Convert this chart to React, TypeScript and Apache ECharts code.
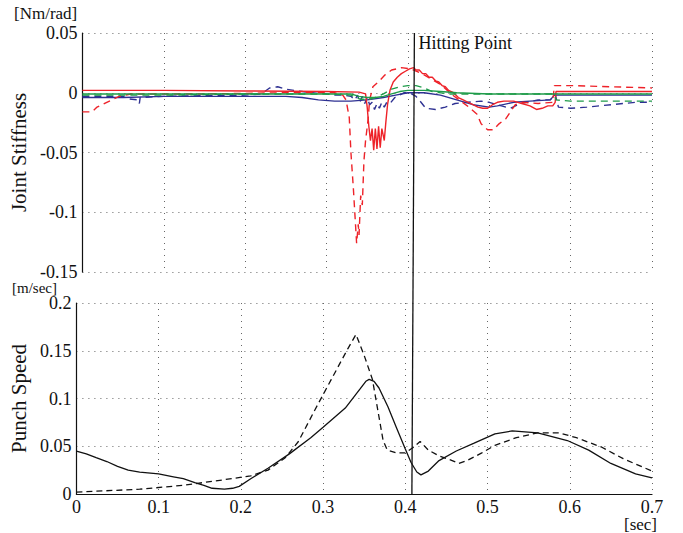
import { useEffect, useRef } from "react";
import * as echarts from "echarts";

// time axis ticks [sec]
const xMin = 0;
const xMax = 0.7;
const xStep = 0.1;
const hitTime = 0.408;

// Joint stiffness [Nm/rad] — [t, value]
const redSolid = [
  [0, 0.002], [0.1, 0.002], [0.2, 0.0015], [0.3, 0.001], [0.34, 0.0005], [0.348, -0.001],
  [0.35, -0.012], [0.352, -0.028], [0.354, -0.04], [0.356, -0.03], [0.358, -0.048], [0.36, -0.03],
  [0.362, -0.047], [0.364, -0.028], [0.366, -0.046], [0.368, -0.03], [0.371, -0.04], [0.373, -0.024],
  [0.375, -0.01], [0.378, 0.002], [0.382, 0.009], [0.387, 0.013], [0.392, 0.016], [0.397, 0.018],
  [0.402, 0.02], [0.407, 0.021], [0.41, 0.019], [0.414, 0.019], [0.418, 0.016], [0.422, 0.016],
  [0.426, 0.013], [0.43, 0.013], [0.434, 0.01], [0.438, 0.009], [0.442, 0.006], [0.446, 0.005],
  [0.45, 0.002], [0.456, 0.0], [0.462, -0.004], [0.468, -0.006], [0.474, -0.008], [0.48, -0.01],
  [0.486, -0.012], [0.492, -0.013], [0.498, -0.013], [0.504, -0.01], [0.51, -0.008], [0.518, -0.007],
  [0.53, -0.007], [0.54, -0.009], [0.55, -0.011], [0.558, -0.014], [0.565, -0.013], [0.572, -0.011],
  [0.578, -0.011], [0.581, -0.008], [0.582, 0.001], [0.6, 0.001], [0.7, 0.001],
];
const redDashed = [
  [0, -0.016], [0.012, -0.016], [0.018, -0.012], [0.03, -0.008], [0.045, -0.003], [0.06, -0.001],
  [0.15, -0.001], [0.25, 0.0], [0.31, 0.0], [0.32, -0.002], [0.324, -0.006], [0.328, -0.021],
  [0.33, -0.05], [0.333, -0.08], [0.335, -0.103], [0.337, -0.126], [0.339, -0.11], [0.34, -0.119],
  [0.342, -0.086], [0.344, -0.094], [0.346, -0.057], [0.348, -0.04], [0.351, -0.023], [0.353, -0.006],
  [0.357, 0.005], [0.365, 0.01], [0.372, 0.015], [0.38, 0.019], [0.392, 0.021], [0.404, 0.02],
  [0.42, 0.015], [0.44, 0.007], [0.455, -0.002], [0.465, -0.007], [0.475, -0.012], [0.485, -0.018],
  [0.49, -0.026], [0.498, -0.031], [0.505, -0.031], [0.512, -0.026], [0.52, -0.022], [0.526, -0.016],
  [0.532, -0.01], [0.54, -0.008], [0.56, -0.009], [0.578, -0.008], [0.58, 0.006], [0.6, 0.006],
  [0.65, 0.005], [0.7, 0.004],
];
const blueSolid = [
  [0, -0.004], [0.05, -0.004], [0.1, -0.003], [0.2, -0.003], [0.25, -0.003], [0.27, -0.004],
  [0.29, -0.006], [0.31, -0.007], [0.33, -0.007], [0.35, -0.006], [0.37, -0.004], [0.385, -0.002],
  [0.4, 0.0], [0.42, 0.0], [0.44, -0.002], [0.46, -0.006], [0.48, -0.01], [0.5, -0.012],
  [0.51, -0.011], [0.53, -0.008], [0.55, -0.007], [0.575, -0.006], [0.58, -0.002], [0.7, -0.002],
];
const blueDashed = [
  [0, -0.003], [0.05, -0.003], [0.055, -0.005], [0.069, -0.006], [0.07, -0.009], [0.071, -0.004],
  [0.1, -0.003], [0.2, -0.002], [0.22, -0.001], [0.23, 0.004], [0.24, 0.005], [0.25, 0.003],
  [0.26, 0.002], [0.27, 0.001], [0.28, 0.0], [0.29, 0.001], [0.3, -0.001], [0.31, -0.002],
  [0.32, -0.002], [0.33, -0.003], [0.335, -0.006], [0.338, -0.002], [0.341, -0.008], [0.344, -0.003],
  [0.347, -0.009], [0.35, -0.004], [0.353, -0.01], [0.356, -0.008], [0.359, -0.014], [0.362, -0.009],
  [0.365, -0.013], [0.368, -0.008], [0.371, -0.012], [0.374, -0.008], [0.378, -0.009], [0.384, -0.004],
  [0.39, -0.002], [0.395, 0.0], [0.402, 0.0], [0.41, -0.003], [0.415, -0.007], [0.422, -0.013],
  [0.434, -0.014], [0.446, -0.012], [0.458, -0.009], [0.474, -0.008], [0.49, -0.007], [0.5, -0.008],
  [0.515, -0.011], [0.526, -0.013], [0.538, -0.009], [0.56, -0.006], [0.575, -0.006], [0.581, -0.001],
  [0.585, -0.012], [0.6, -0.013], [0.62, -0.012], [0.65, -0.01], [0.68, -0.008], [0.7, -0.008],
];
const greenSolid = [
  [0, -0.001], [0.1, -0.001], [0.2, -0.001], [0.3, -0.001], [0.33, -0.001], [0.34, -0.003],
  [0.35, -0.004], [0.36, -0.004], [0.37, -0.003], [0.38, -0.001], [0.39, 0.001], [0.4, 0.002],
  [0.42, 0.002], [0.44, 0.001], [0.46, 0.0], [0.5, -0.001], [0.58, -0.001], [0.7, -0.001],
];
const greenDashed = [
  [0, -0.002], [0.1, -0.002], [0.2, -0.001], [0.3, -0.001], [0.33, -0.002], [0.34, -0.005],
  [0.35, -0.006], [0.36, -0.004], [0.37, -0.001], [0.38, 0.003], [0.39, 0.005], [0.4, 0.006],
  [0.41, 0.006], [0.42, 0.004], [0.43, 0.001], [0.45, -0.001], [0.5, -0.001], [0.58, -0.001],
  [0.582, -0.006], [0.6, -0.007], [0.7, -0.007],
];

// Punch speed [m/sec] — [t, value]
const speedSolid = [
  [0, 0.045], [0.012, 0.042], [0.024, 0.038], [0.037, 0.034], [0.05, 0.029], [0.063, 0.025],
  [0.077, 0.023], [0.1, 0.021], [0.118, 0.018], [0.13, 0.016], [0.144, 0.012], [0.155, 0.009],
  [0.165, 0.006], [0.18, 0.005], [0.19, 0.006], [0.198, 0.008], [0.212, 0.016], [0.233, 0.027],
  [0.259, 0.042], [0.285, 0.059], [0.3, 0.07], [0.327, 0.09], [0.345, 0.11], [0.352, 0.118],
  [0.356, 0.12], [0.362, 0.118], [0.368, 0.111], [0.379, 0.091], [0.389, 0.07], [0.4, 0.047],
  [0.407, 0.033], [0.414, 0.023], [0.419, 0.02], [0.428, 0.024], [0.441, 0.035], [0.462, 0.045],
  [0.483, 0.053], [0.509, 0.063], [0.53, 0.066], [0.561, 0.064], [0.597, 0.056], [0.623, 0.046],
  [0.65, 0.032], [0.68, 0.021], [0.7, 0.017],
];
const speedDashed = [
  [0, 0.002], [0.077, 0.005], [0.129, 0.009], [0.18, 0.015], [0.212, 0.019], [0.233, 0.025],
  [0.254, 0.038], [0.27, 0.055], [0.29, 0.088], [0.31, 0.12], [0.33, 0.152], [0.34, 0.167],
  [0.35, 0.145], [0.36, 0.12], [0.373, 0.056], [0.378, 0.046], [0.389, 0.043], [0.4, 0.043],
  [0.41, 0.049], [0.418, 0.055], [0.428, 0.046], [0.441, 0.04], [0.457, 0.035], [0.465, 0.032],
  [0.475, 0.035], [0.493, 0.043], [0.509, 0.051], [0.535, 0.059], [0.561, 0.064], [0.587, 0.064],
  [0.608, 0.059], [0.639, 0.049], [0.665, 0.037], [0.7, 0.024],
];

const RED = "#ee2229";
const BLUE = "#2e3192";
const GREEN = "#1f9c4a";

export default function App() {
  const ref = useRef<HTMLDivElement>(null);

  useEffect(() => {
    document.body.style.margin = "0";
    const chart = echarts.init(ref.current!, null, { renderer: "svg" });
    const font = "'Liberation Serif', 'Times New Roman', serif";
    const split = { show: true, lineStyle: { color: "#666", type: [1, 5], width: 1 } };
    const tickLabel = { fontFamily: font, fontSize: 18, color: "#111" };
    const nameStyle = { fontFamily: font, fontSize: 21, color: "#111" };
    const fmt = (v: number) => String(Math.round(v * 1000) / 1000);

    const topLine = (data: number[][], color: string, dashed: boolean) => ({
      type: "line",
      xAxisIndex: 0,
      yAxisIndex: 0,
      data,
      symbol: "none",
      showSymbol: false,
      silent: true,
      lineStyle: { color, width: 1.4, type: dashed ? [7, 5] : "solid" },
    });
    const botLine = (data: number[][], dashed: boolean) => ({
      type: "line",
      xAxisIndex: 1,
      yAxisIndex: 1,
      data,
      symbol: "none",
      showSymbol: false,
      silent: true,
      lineStyle: { color: "#111", width: 1.3, type: dashed ? [6, 4] : "solid" },
    });

    chart.setOption({
      animation: false,
      backgroundColor: "#ffffff",
      grid: [
        { left: 67, right: 31, top: 33, height: 239 },
        { left: 67, right: 31, top: 303, height: 191 },
      ],
      xAxis: [
        {
          gridIndex: 0, type: "value", min: xMin, max: xMax, interval: xStep,
          axisLine: { show: false }, axisTick: { show: false }, axisLabel: { show: false },
          splitLine: split,
        },
        {
          gridIndex: 1, type: "value", min: xMin, max: xMax, interval: xStep,
          axisLine: { show: true, onZero: false, lineStyle: { color: "#111", width: 1.2 } },
          axisTick: { show: false },
          axisLabel: { ...tickLabel, margin: 4, formatter: fmt },
          splitLine: split,
        },
      ],
      yAxis: [
        {
          gridIndex: 0, type: "value", min: -0.15, max: 0.05, interval: 0.05,
          name: "Joint Stiffness", nameLocation: "middle", nameGap: 39,
          nameTextStyle: nameStyle,
          axisLine: { show: true, onZero: false, lineStyle: { color: "#111", width: 1.2 } },
          axisTick: { show: false },
          axisLabel: { ...tickLabel, margin: 5, formatter: fmt },
          splitLine: split,
        },
        {
          gridIndex: 1, type: "value", min: 0, max: 0.2, interval: 0.05,
          name: "Punch Speed", nameLocation: "middle", nameGap: 39,
          nameTextStyle: nameStyle,
          axisLine: { show: true, onZero: false, lineStyle: { color: "#111", width: 1.2 } },
          axisTick: { show: false },
          axisLabel: { ...tickLabel, margin: 5, formatter: fmt },
          splitLine: split,
        },
      ],
      series: [
        topLine(blueSolid, BLUE, false),
        topLine(blueDashed, BLUE, true),
        topLine(redDashed, RED, true),
        topLine(redSolid, RED, false),
        topLine(greenDashed, GREEN, true),
        topLine(greenSolid, GREEN, false),
        botLine(speedDashed, true),
        botLine(speedSolid, false),
      ],
    });

    const pTop = chart.convertToPixel({ gridIndex: 0 }, [hitTime, 0.05]) as number[];
    const pBot = chart.convertToPixel({ gridIndex: 1 }, [hitTime, 0]) as number[];
    const textStyle = (text: string, x: number, y: number, align: string, size = 18) => ({
      text, x, y, fill: "#111", font: `${size}px ${font}`,
      align, verticalAlign: "middle", textAlign: align, textVerticalAlign: "middle",
    });

    chart.setOption({
      graphic: [
        {
          type: "line", silent: true, z: 100,
          shape: { x1: pTop[0], y1: pTop[1], x2: pBot[0], y2: pBot[1] },
          style: { stroke: "#111", lineWidth: 1.3 },
        },
        { type: "text", silent: true, z: 100, style: textStyle("Hitting Point", pTop[0] + 4, pTop[1] + 10, "left") },
        { type: "text", silent: true, style: textStyle("[Nm/rad]", 14, 13, "left", 17) },
        { type: "text", silent: true, style: textStyle("[m/sec]", 12, 288, "left", 15) },
        { type: "text", silent: true, style: textStyle("[sec]", 657, 524, "right", 17) },
      ],
    });

    return () => chart.dispose();
  }, []);

  return <div ref={ref} style={{ width: 683, height: 533 }} />;
}
